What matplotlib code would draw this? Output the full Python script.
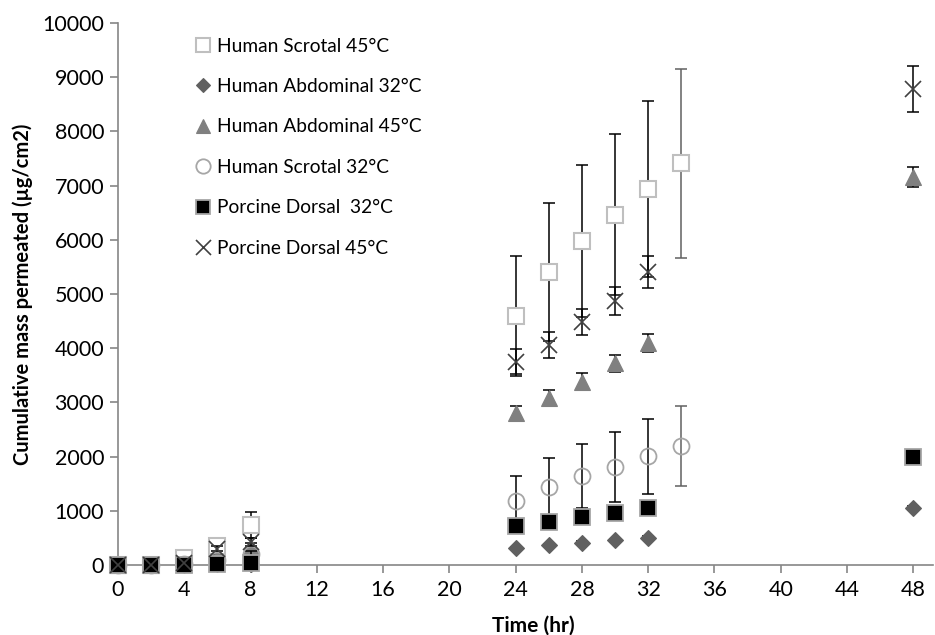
import numpy as np
import matplotlib
matplotlib.use("Agg")
import matplotlib.pyplot as plt

plt.rcParams['font.family'] = ['Lato', 'DejaVu Sans']

# Sampling times (hr)
t_early = [0, 2, 4, 6, 8]
t_late = [24, 26, 28, 30, 32]

# Human Scrotal 45°C
hs45_t = t_early + t_late + [34]
hs45_y = [0, 0, 130, 350, 740, 4595, 5410, 5980, 6465, 6935, 7410]
hs45_e = [0, 0, 20, 125, 245, 1105, 1270, 1400, 1490, 1620, 1750]

# Human Abdominal 32°C
ha32_t = t_early + t_late + [48]
ha32_y = [0, 0, 5, 10, 20, 310, 365, 410, 455, 505, 1055]
ha32_e = [0, 0, 0, 0, 0, 20, 20, 25, 25, 30, 40]

# Human Abdominal 45°C
ha45_t = t_early + t_late + [48]
ha45_y = [0, 0, 25, 150, 340, 2800, 3085, 3380, 3720, 4095, 7160]
ha45_e = [0, 0, 5, 30, 60, 135, 140, 160, 155, 165, 185]

# Human Scrotal 32°C
hs32_t = t_early + t_late + [34]
hs32_y = [0, 0, 20, 90, 200, 1180, 1435, 1645, 1815, 2005, 2195]
hs32_e = [0, 0, 5, 30, 60, 455, 540, 595, 645, 690, 735]

# Porcine Dorsal 32°C
pd32_t = t_early + t_late + [48]
pd32_y = [0, 0, 5, 18, 42, 720, 795, 885, 965, 1055, 2000]
pd32_e = [0, 0, 0, 0, 0, 20, 20, 25, 25, 30, 40]

# Porcine Dorsal 45°C
pd45_t = t_early + t_late + [48]
pd45_y = [0, 0, 40, 300, 430, 3750, 4060, 4480, 4870, 5410, 8780]
pd45_e = [0, 0, 10, 50, 70, 230, 245, 240, 260, 295, 420]

series = [
    ("Human Scrotal 45°C", hs45_t, hs45_y, hs45_e,
     dict(marker='s', ms=11.5, mfc='white', mec='#BFBFBF', mew=1.5)),
    ("Human Abdominal 32°C", ha32_t, ha32_y, ha32_e,
     dict(marker='D', ms=8.2, mfc='#606060', mec='#606060', mew=0.8)),
    ("Human Abdominal 45°C", ha45_t, ha45_y, ha45_e,
     dict(marker='^', ms=11.5, mfc='#808080', mec='#808080', mew=0.8)),
    ("Human Scrotal 32°C", hs32_t, hs32_y, hs32_e,
     dict(marker='o', ms=11.5, mfc='none', mec='#A6A6A6', mew=1.3)),
    ("Porcine Dorsal  32°C", pd32_t, pd32_y, pd32_e,
     dict(marker='s', ms=11.5, mfc='black', mec='#A6A6A6', mew=1.3)),
    ("Porcine Dorsal 45°C", pd45_t, pd45_y, pd45_e,
     dict(marker='x', ms=12, mfc='none', mec='#404040', mew=1.2)),
]

fig = plt.figure(figsize=(9.35, 6.35), dpi=100)
ax = fig.add_axes([0.1262, 0.1102, 0.8718, 0.8536])

axis_col = '#868686'

handles = []
for i, (name, t, y, e, st) in enumerate(series):
    t = np.asarray(t, float)
    y = np.asarray(y, float)
    e = np.asarray(e, float)
    grey = t == 34
    for mask, col in ((~grey, 'black'), (grey, '#606060')):
        if mask.any():
            ax.errorbar(t[mask], y[mask], yerr=e[mask], fmt='none',
                        ecolor=col, elinewidth=1.1, capsize=4,
                        capthick=1.1, zorder=2 + 2 * i, clip_on=False)
    h, = ax.plot(t, y, linestyle='none', label=name, zorder=3 + 2 * i,
                 clip_on=False, **st)
    handles.append(h)

ax.set_xlim(0, 49.2)
ax.set_ylim(0, 10000)
ax.set_xticks(np.arange(0, 49, 4))
ax.set_yticks(np.arange(0, 10001, 1000))

for s in ('top', 'right'):
    ax.spines[s].set_visible(False)
for s in ('left', 'bottom'):
    ax.spines[s].set_color(axis_col)
    ax.spines[s].set_linewidth(1.2)
    ax.spines[s].set_zorder(1)
ax.tick_params(axis='both', colors=axis_col, labelcolor='black',
               labelsize=15.5, length=6, width=1.2, direction='out')
ax.tick_params(axis='x', pad=5)
ax.tick_params(axis='y', pad=4)

ax.set_xlabel("Time (hr)", fontsize=15, fontweight='bold', labelpad=4)
ax.xaxis.set_label_coords(0.51, -0.093)
ax.set_ylabel("Cumulative mass permeated (µg/cm2)", fontsize=14.5,
              fontweight='bold', labelpad=8)
ax.yaxis.set_label_coords(-0.104, 0.5)

leg = ax.legend(handles=handles, loc='upper left',
                bbox_to_anchor=(0.085, 0.987), frameon=False,
                fontsize=13.8, labelspacing=1.22, handlelength=0.8,
                handletextpad=0.35, markerscale=0.9, borderaxespad=0)

fig.savefig("out.png", dpi=100)
